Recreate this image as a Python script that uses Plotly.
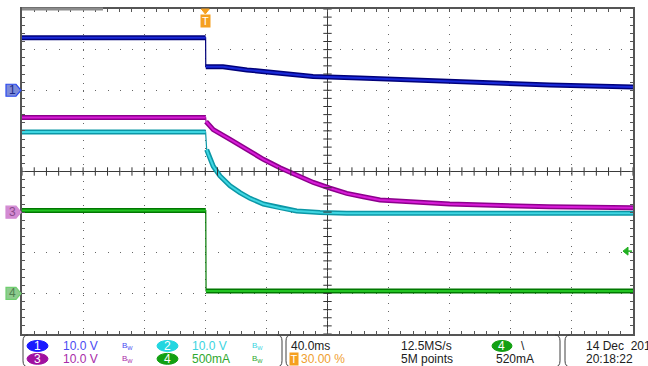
import plotly.graph_objects as go
import numpy as np

# ---------------- data ----------------
# time in ms relative to the trigger point
t_ch1 = [-120.0, 0.2, 0.3, 1.1, 11.6, 27.3, 48.9, 70.5, 101.0, 127.5, 160.0, 193.0, 225.6, 280.0]
v_ch1 = [12.9, 12.9, 5.8, 5.8, 5.8, 5.0, 4.2, 3.4, 3.0, 2.6, 2.1, 1.7, 1.3, 0.8]

t_ch2 = [-120.0, 0.2, 0.9, 2.0, 5.2, 9.6, 16.2, 22.7, 29.3, 38.0, 48.9, 59.8, 75.1, 92.6, 280.0]
v_ch2 = [19.7, 19.7, 15.4, 14.2, 11.3, 8.9, 6.5, 4.8, 3.4, 2.0, 1.0, 0.3, -0.1, -0.3, -0.3]

t_ch3 = [-120.0, 0.2, 0.5, 5.2, 16.2, 27.1, 38.0, 48.9, 59.8, 70.7, 81.6, 92.6, 103.4, 114.4, 160.0, 225.0, 280.0]
v_ch3 = [23.3, 23.3, 22.3, 20.3, 17.9, 15.4, 13.0, 10.9, 9.1, 7.3, 5.9, 4.6, 3.8, 3.0, 2.0, 1.3, 1.1]

t_ch4 = [-120.0, 0.3, 0.5, 280.0]
i_ch4 = [1.02, 1.02, 0.03, 0.03]

# channel settings (units per division, ground offset in divisions)
ch_labels = ["1", "2", "3", "4"]
ch_scale = [10.0, 10.0, 10.0, 0.5]
ch_offset = [2.0, -1.0, -1.0, -3.0]
ch_scale_text = ["10.0 V", "10.0 V", "10.0 V", "500mA"]
time_per_div_ms = 40.0
trigger_pos_pct = 30.0
trigger_level = 0.52
status_texts = ["40.0ms", "30.00 %", "12.5MS/s", "5M points", "520mA", "14 Dec  2017", "20:18:22"]

# ---------------- styling ----------------
outer_col = ["#00007a", "#0b97a6", "#8c008c", "#007800"]
inner_col = ["#1a2ad8", "#3fd6e2", "#d81cd8", "#22c422"]
label_col = ["#4a4af2", "#3ad4e0", "#a82aa8", "#2ea82e"]
badge_col = ["#1a1aff", "#22d6e0", "#a010a0", "#12a012"]
mk_fill = ["#7d8bd8", "#6fd8e0", "#d38ad3", "#8ecb8e"]
mk_line = ["#2a4af0", "#30c0d0", "#d38ad3", "#6fcf6f"]
mk_text = ["#1a2a8a", "#206070", "#8a4a8a", "#4f7f4f"]
FONT = "Liberation Sans, Arial, sans-serif"

W, H = 648, 366
L, R, T, B = 22, 15, 7, 32
PW, PH = W - L - R, H - T - B


def X(xp):
    return (xp - L) / PW


def Y(yp):
    return (H - B - yp) / PH


t_start = -trigger_pos_pct / 100 * 10 * time_per_div_ms
t_end = t_start + 10 * time_per_div_ms

fig = go.Figure()

series = [(t_ch1, v_ch1, 2), (t_ch2, v_ch2, 2), (t_ch3, v_ch3, 2), (t_ch4, i_ch4, 2)]
for k, (tt, vv, st) in enumerate(series):
    yd = [v / ch_scale[k] + ch_offset[k] for v in vv]
    # thin full trace (visible on the fast edges)
    fig.add_trace(go.Scatter(x=tt, y=yd, mode="lines", line=dict(color=outer_col[k], width=1.2),
                             hoverinfo="skip"))
    for a, b in [(0, st), (st, len(tt))]:
        fig.add_trace(go.Scatter(x=tt[a:b], y=yd[a:b], mode="lines",
                                 line=dict(color=outer_col[k], width=5), hoverinfo="skip"))
        fig.add_trace(go.Scatter(x=tt[a:b], y=yd[a:b], mode="lines",
                                 line=dict(color=inner_col[k], width=2), hoverinfo="skip"))

# graticule centre-line ticks
t_mid = (t_start + t_end) / 2
ytk = np.arange(-4, 4.001, 0.2)
xtk = np.arange(t_start, t_end + 0.001, time_per_div_ms / 5)
fig.add_trace(go.Scatter(x=[t_mid] * len(ytk), y=ytk, mode="markers",
                         marker=dict(symbol="line-ew", size=6, line=dict(color="#333333", width=1)),
                         hoverinfo="skip"))
fig.add_trace(go.Scatter(x=xtk, y=[0] * len(xtk), mode="markers",
                         marker=dict(symbol="line-ns", size=6, line=dict(color="#333333", width=1)),
                         hoverinfo="skip"))

shapes = []
annotations = []
# centre lines
shapes.append(dict(type="line", xref="x", yref="paper", x0=t_mid, x1=t_mid, y0=0, y1=1,
                   line=dict(color="#3a3a3a", width=1), layer="below"))
shapes.append(dict(type="line", xref="paper", yref="y", x0=0, x1=1, y0=0, y1=0,
                   line=dict(color="#3a3a3a", width=1), layer="below"))
# record-view gray bar on top border
shapes.append(dict(type="line", xref="paper", yref="paper", x0=0, x1=X(103), y0=1, y1=1,
                   line=dict(color="#8c8c8c", width=3)))

# channel ground markers on the left (channel 2 sits hidden under channel 3)
for k in [0, 2, 3]:
    yp = (ch_offset[k] + 4) / 8
    shapes.append(dict(type="path", xref="paper", yref="paper", xsizemode="pixel", ysizemode="pixel",
                       xanchor=0, yanchor=yp, path="M -16,-6 L -6,-6 L -1,0 L -6,6 L -16,6 Z",
                       fillcolor=mk_fill[k], line=dict(color=mk_line[k], width=1.2)))
    annotations.append(dict(text=ch_labels[k], xref="paper", yref="paper", x=X(12.5), y=yp,
                            xanchor="center", yanchor="middle", showarrow=False,
                            font=dict(family=FONT, size=12, color=mk_text[k])))

# trigger position marker at top
tx = (0 - t_start) / (t_end - t_start)
shapes.append(dict(type="path", xref="paper", yref="paper", xsizemode="pixel", ysizemode="pixel",
                   xanchor=tx, yanchor=1, path="M -4,0 L 4,0 L 0,-5 Z",
                   fillcolor="#f5a020", line=dict(color="#f5a020", width=1)))
annotations.append(dict(text="T", xref="paper", yref="paper", x=tx, y=Y(19.5), xanchor="center",
                        yanchor="middle", showarrow=False, bgcolor="#f5a020", width=9, height=12,
                        borderpad=0, font=dict(family=FONT, size=11, color="white")))

# trigger level marker (right)
tl = (trigger_level / ch_scale[3] + ch_offset[3] + 4) / 8
shapes.append(dict(type="path", xref="paper", yref="paper", xsizemode="pixel", ysizemode="pixel",
                   xanchor=1, yanchor=tl, path="M -10,0 L -5,-4 L -5,4 Z",
                   fillcolor="#22b022", line=dict(color="#22b022", width=1)))
shapes.append(dict(type="line", xref="paper", yref="paper", xsizemode="pixel", ysizemode="pixel",
                   xanchor=1, yanchor=tl, x0=-6, x1=-1, y0=0, y1=0,
                   line=dict(color="#22b022", width=1.5)))

# ---------------- status bar ----------------
def bracket(x, side, y0=335, y1=367):
    r = 5 if side == "(" else -5
    return dict(type="path", xref="paper", yref="paper",
                path=f"M {X(x + r)},{Y(y0)} Q {X(x)},{Y(y0)} {X(x)},{Y(y0 + 6)} "
                     f"L {X(x)},{Y(y1 - 6)} Q {X(x)},{Y(y1)} {X(x + r)},{Y(y1)}",
                line=dict(color="#404040", width=1))


for x, s in [(23, "("), (282, ")"), (286, "("), (560, ")"), (565, "(")]:
    shapes.append(bracket(x, s))


def badge(x0, x1, y0, y1, col, txt):
    shapes.append(dict(type="circle", xref="paper", yref="paper", x0=X(x0), x1=X(x1), y0=Y(y1), y1=Y(y0),
                       fillcolor=col, line=dict(color=col, width=1)))
    annotations.append(dict(text=txt, xref="paper", yref="paper", x=X((x0 + x1) / 2), y=Y((y0 + y1) / 2),
                            xanchor="center", yanchor="middle", showarrow=False, borderpad=0,
                            font=dict(family=FONT, size=12, color="white")))


def label(x, y, txt, col, size=12, anchor="left"):
    annotations.append(dict(text=txt, xref="paper", yref="paper", x=X(x), y=Y(y), xanchor=anchor,
                            yanchor="middle", showarrow=False, borderpad=0,
                            font=dict(family=FONT, size=size, color=col)))


rows = [346, 359]
pos = [(27, 62, 121), (157, 191, 251), (27, 62, 121), (157, 191, 251)]
for k in range(4):
    yr = rows[k // 2]
    bx, tx_, bw = pos[k]
    badge(bx, bx + 21, yr - 5.5, yr + 5.5, badge_col[k], ch_labels[k])
    label(tx_, yr, ch_scale_text[k], label_col[k])
    label(bw, yr, "B<sub>W</sub>", label_col[k], size=8)

label(290, rows[0], status_texts[0], "#202020")
annotations.append(dict(text="T", xref="paper", yref="paper", x=X(294), y=Y(rows[1]), xanchor="center",
                        yanchor="middle", showarrow=False, bgcolor="#f5a020", width=8, height=12,
                        borderpad=0, font=dict(family=FONT, size=11, color="white")))
label(300, rows[1], status_texts[1], "#f0a030")
label(400, rows[0], status_texts[2], "#202020")
label(400, rows[1], status_texts[3], "#202020")
badge(492, 512, rows[0] - 5.5, rows[0] + 5.5, badge_col[3], ch_labels[3])
label(520, rows[0], "\\", "#202020")
label(495, rows[1], status_texts[4], "#202020")
label(585, rows[0], status_texts[5], "#202020")
label(585, rows[1], status_texts[6], "#202020")

fig.update_layout(
    width=W, height=H, margin=dict(l=L, r=R, t=T, b=B),
    paper_bgcolor="white", plot_bgcolor="white", showlegend=False,
    shapes=shapes, annotations=annotations,
)
fig.update_xaxes(range=[t_start, t_end], showgrid=True, gridcolor="#666666", gridwidth=1,
                 griddash="1px,7.175px", dtick=time_per_div_ms, tick0=t_start,
                 ticks="inside", ticklen=3, tickcolor="#555555",
                 minor=dict(dtick=time_per_div_ms / 5, tick0=t_start, ticks="inside", ticklen=3,
                            tickcolor="#555555", showgrid=False),
                 showline=True, linecolor="#555555", linewidth=1.5, mirror="allticks",
                 showticklabels=False, zeroline=False)
fig.update_yaxes(range=[-4, 4], showgrid=True, gridcolor="#666666", gridwidth=1,
                 griddash="1px,11.22px", dtick=1, tick0=-4,
                 ticks="inside", ticklen=3, tickcolor="#555555",
                 minor=dict(dtick=0.2, tick0=-4, ticks="inside", ticklen=3,
                            tickcolor="#555555", showgrid=False),
                 showline=True, linecolor="#555555", linewidth=1.5, mirror="allticks",
                 showticklabels=False, zeroline=False)

fig.write_html("out.html", config={"displayModeBar": False},
               post_script="document.body.style.margin='0';document.body.style.overflow='hidden';")
